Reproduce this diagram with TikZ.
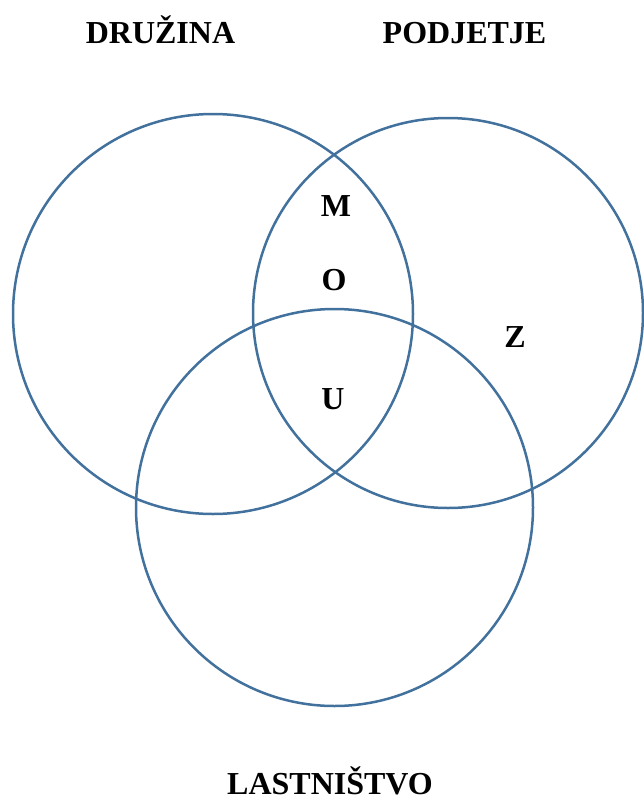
\documentclass[tikz,border=0pt]{standalone}
\usepackage{fontspec}
\setmainfont{Liberation Serif}
\definecolor{ringblue}{RGB}{65,113,156}
\begin{document}
\begin{tikzpicture}[x=1pt,y=-1pt,
  ring/.style={draw=ringblue,line width=2.5pt,circle,inner sep=0pt,outer sep=0pt},
  lbl/.style={anchor=base,inner sep=0pt,font=\fontsize{32}{32}\selectfont\bfseries}]
\useasboundingbox (0,0) rectangle (643,803);
\node[ring,minimum size=400pt] (druzina) at (213,314) {};
\node[ring,minimum size=390pt] (podjetje) at (448,313) {};
\node[ring,minimum size=397pt] (lastnistvo) at (334.5,507.5) {};
\node[lbl] (tD) at (160.5,43) {DRUŽINA};
\node[lbl] (tP) at (464.5,43) {PODJETJE};
\node[lbl] (tL) at (330,794) {LASTNIŠTVO};
\node[lbl] (m) at (336,216) {M};
\node[lbl] (o) at (334,290) {O};
\node[lbl] (u) at (333,409) {U};
\node[lbl] (z) at (515,347) {Z};
\end{tikzpicture}
\end{document}
